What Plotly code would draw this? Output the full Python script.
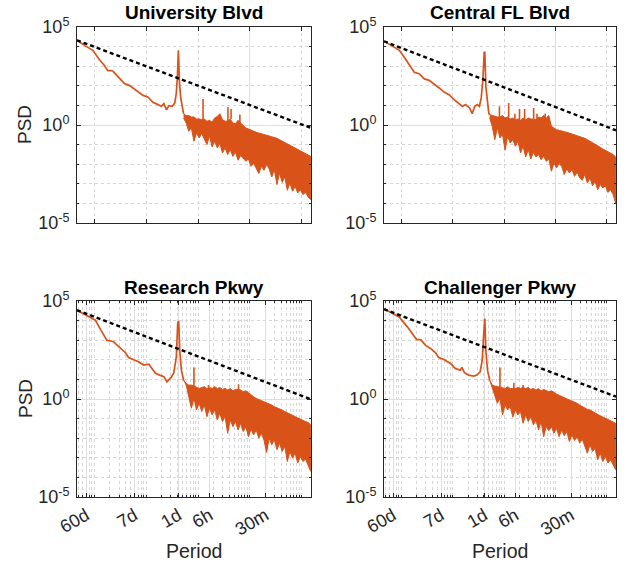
import numpy as np
import plotly.graph_objects as go

# ---------------- data (log10 frequency in cycles/day, log10 PSD) ----------------
noise_logf = [0.10, 0.15, 0.20, 0.25, 0.30, 0.35, 0.40, 0.45, 0.50, 0.55,
              0.60, 0.65, 0.70, 0.75, 0.80, 0.85, 0.90, 0.95, 1.00, 1.05,
              1.10, 1.15, 1.20, 1.25, 1.30, 1.35, 1.40, 1.45, 1.50, 1.55,
              1.60, 1.65, 1.70, 1.75, 1.80, 1.85, 1.90, 1.95, 2.00, 2.05,
              2.10, 2.15, 2.20, 2.25, 2.30, 2.35, 2.40, 2.45, 2.50, 2.55]

ref_logf = [-1.954, 2.556]

# University Blvd
ub_smooth_logf = [-1.954, -1.90, -1.80, -1.65, -1.52, -1.43, -1.36, -1.30, -1.26, -1.17,
                  -1.10, -1.04, -0.94, -0.86, -0.78, -0.68, -0.59, -0.49, -0.39, -0.33,
                  -0.28, -0.23, -0.18, -0.12, -0.07, -0.04, -0.02, -0.008, 0.0, 0.008,
                  0.02, 0.045, 0.077, 0.10]
ub_smooth_logpsd = [4.34, 4.22, 4.05, 3.81, 3.33, 3.05, 2.77, 2.78, 2.74, 2.48,
                    2.30, 2.11, 2.01, 1.85, 1.72, 1.51, 1.43, 1.16, 1.04, 0.95,
                    1.09, 0.78, 0.99, 0.95, 1.12, 1.63, 2.40, 3.30, 3.81, 3.20,
                    2.20, 1.38, 0.78, 0.58]
ub_upper_logpsd = [0.58, 0.48, 0.48, 0.41, 0.41, 0.31, 0.31, 0.27, 0.31, 0.19,
                   0.24, 0.14, 0.36, 0.44, 0.58, 0.27, 0.19, 0.20, 0.30, 0.10,
                   0.07, 0.24, 0.10, -0.03, -0.15, -0.20, -0.27, -0.32, -0.37, -0.41,
                   -0.44, -0.49, -0.53, -0.56, -0.60, -0.63, -0.68, -0.75, -0.82, -0.88,
                   -0.95, -1.02, -1.12, -1.19, -1.26, -1.31, -1.38, -1.45, -1.51, -1.60]
ub_lower_logpsd = [0.36, 0.10, -0.32, -0.15, -0.83, -0.41, -0.66, -0.44, -0.75, -1.00,
                   -0.58, -1.12, -0.83, -1.17, -0.95, -1.43, -1.17, -1.51, -1.26, -1.60,
                   -1.39, -1.80, -1.56, -1.68, -1.85, -1.73, -2.11, -1.94, -2.19, -2.48,
                   -2.11, -2.31, -2.02, -2.24, -2.65, -2.28, -3.04, -2.45, -2.93, -2.65,
                   -3.33, -2.96, -3.38, -3.13, -3.47, -3.30, -3.55, -3.44, -3.67, -3.81]
ub_spike_logf = [0.475, 0.79, 0.955, 1.015, 1.185]
ub_spike_logpsd = [1.33, 0.58, 0.92, 0.82, 0.53]
ub_ref_logpsd = [4.32, -0.15]

# Central FL Blvd
cf_smooth_logf = [-1.954, -1.655, -1.527, -1.366, -1.27, -1.17, -1.076, -0.98, -0.88, -0.786,
                  -0.69, -0.59, -0.50, -0.43, -0.37, -0.29, -0.24, -0.19, -0.14, -0.10,
                  -0.064, -0.032, -0.006, 0.006, 0.026, 0.058, 0.084, 0.10]
cf_smooth_logpsd = [4.28, 3.81, 3.33, 2.69, 2.62, 2.35, 2.28, 2.11, 1.89, 1.68,
                    1.55, 1.29, 1.09, 0.95, 1.04, 0.87, 0.58, 0.95, 1.04, 0.95,
                    1.38, 2.31, 3.71, 3.71, 1.97, 0.95, 0.58, 0.53]
cf_upper_logpsd = [0.53, 0.48, 0.44, 0.41, 0.41, 0.48, 0.36, 0.41, 0.31, 0.36,
                   0.27, 0.31, 0.24, 0.36, 0.27, 0.36, 0.31, 0.30, 0.27, 0.41,
                   0.36, 0.48, 0.36, 0.48, -0.07, -0.15, -0.24, -0.27, -0.32, -0.34,
                   -0.37, -0.41, -0.44, -0.49, -0.53, -0.58, -0.63, -0.68, -0.75, -0.82,
                   -0.92, -0.99, -1.05, -1.14, -1.22, -1.29, -1.36, -1.46, -1.51, -1.63]
cf_lower_logpsd = [0.36, -0.07, -0.75, -0.15, -0.66, -0.49, -1.29, -0.58, -0.92, -0.75,
                   -1.09, -0.83, -1.43, -1.09, -1.63, -1.26, -1.73, -1.39, -1.63, -1.51,
                   -1.77, -1.60, -1.85, -1.73, -2.36, -1.94, -2.19, -1.97, -2.11, -2.53,
                   -2.24, -2.45, -2.28, -2.62, -2.41, -2.70, -2.82, -2.53, -2.96, -2.70,
                   -3.10, -2.87, -3.30, -3.04, -3.21, -3.10, -3.44, -3.30, -3.55, -4.01]
cf_spike_logf = [0.29, 0.47, 0.59, 0.68, 0.78, 0.955, 1.02, 1.18]
cf_spike_logpsd = [0.95, 1.12, 0.58, 0.82, 0.82, 0.87, 0.58, 0.58]
cf_ref_logpsd = [4.27, -0.27]

# Research Pkwy
rp_smooth_logf = [-1.954, -1.765, -1.60, -1.51, -1.38, -1.25, -1.12, -1.02, -0.96, -0.86,
                  -0.77, -0.67, -0.57, -0.51, -0.44, -0.36, -0.28, -0.22, -0.14, -0.09,
                  -0.04, -0.013, 0.006, 0.026, 0.058, 0.10]
rp_smooth_logpsd = [4.53, 4.27, 4.02, 3.59, 3.00, 2.92, 2.58, 2.36, 2.12, 2.02,
                    1.90, 1.73, 1.78, 1.56, 1.31, 1.22, 1.14, 0.88, 1.10, 1.31,
                    2.15, 3.85, 3.98, 2.49, 1.47, 0.97]
rp_upper_logpsd = [0.97, 0.80, 0.71, 0.71, 0.66, 0.59, 0.54, 0.59, 0.63, 0.53,
                   0.59, 0.54, 0.63, 0.54, 0.59, 0.49, 0.54, 0.46, 0.53, 0.42,
                   0.49, 0.50, 0.46, 0.37, 0.42, 0.32, 0.20, 0.12, 0.03, -0.02,
                   -0.08, -0.14, -0.19, -0.25, -0.31, -0.39, -0.44, -0.53, -0.56, -0.64,
                   -0.69, -0.76, -0.83, -0.90, -0.97, -1.00, -1.07, -1.15, -1.20, -1.32]
rp_lower_logpsd = [0.97, 0.71, 0.12, -0.47, 0.03, -0.56, -0.22, -0.64, -0.31, -0.90,
                   -0.47, -0.81, -0.56, -1.07, -0.73, -1.15, -0.90, -1.75, -1.07, -1.41,
                   -1.15, -1.58, -1.24, -1.66, -1.41, -1.92, -1.54, -1.83, -1.58, -2.00,
                   -1.75, -2.10, -2.73, -2.00, -2.34, -2.08, -2.59, -2.25, -2.68, -2.42,
                   -3.19, -2.68, -3.02, -2.76, -3.27, -2.93, -3.19, -3.07, -3.36, -3.69]
rp_spike_logf = [0.30, 0.58, 1.16]
rp_spike_logpsd = [1.61, 0.71, 0.75]
rp_ref_logpsd = [4.53, -0.02]

# Challenger Pkwy
cp_smooth_logf = [-1.954, -1.66, -1.50, -1.37, -1.32, -1.24, -1.15, -1.05, -0.95, -0.89,
                  -0.79, -0.66, -0.57, -0.47, -0.44, -0.39, -0.31, -0.21, -0.15, -0.084,
                  -0.045, -0.019, -0.006, 0.006, 0.026, 0.058, 0.10]
cp_smooth_logpsd = [4.60, 4.19, 3.68, 3.17, 3.03, 3.03, 2.75, 2.58, 2.36, 2.12,
                    2.02, 1.81, 1.56, 1.47, 1.61, 1.34, 1.22, 1.17, 1.22, 1.39,
                    1.98, 3.17, 4.10, 4.10, 2.49, 1.47, 0.97]
cp_upper_logpsd = [0.97, 0.71, 0.66, 0.63, 0.59, 0.59, 0.54, 0.63, 0.53, 0.54,
                   0.53, 0.59, 0.54, 0.60, 0.53, 0.59, 0.49, 0.54, 0.46, 0.53,
                   0.42, 0.49, 0.42, 0.37, 0.42, 0.32, 0.25, 0.19, 0.12, 0.07,
                   0.02, -0.05, -0.10, -0.15, -0.22, -0.31, -0.39, -0.46, -0.53, -0.56,
                   -0.64, -0.73, -0.78, -0.86, -0.92, -0.98, -1.03, -1.10, -1.17, -1.24]
cp_lower_logpsd = [0.97, 0.54, 0.20, -0.22, 0.03, -0.81, -0.31, -0.56, -0.39, -0.93,
                   -0.56, -0.81, -0.64, -1.24, -0.81, -1.15, -0.90, -1.32, -1.07, -1.58,
                   -1.15, -1.92, -1.41, -1.61, -1.41, -1.75, -1.49, -1.92, -1.58, -1.88,
                   -1.66, -2.17, -1.83, -2.12, -1.92, -2.25, -2.05, -2.42, -2.76, -2.34,
                   -2.68, -2.51, -3.10, -2.76, -3.19, -2.93, -3.27, -3.10, -3.36, -3.61]
cp_spike_logf = [0.30, 0.57, 0.75]
cp_spike_logpsd = [1.61, 0.83, 0.71]
cp_ref_logpsd = [4.58, 0.12]

titles = ["University Blvd", "Central FL Blvd", "Research Pkwy", "Challenger Pkwy"]
period_tick_labels = ["60d", "7d", "1d", "6h", "30m"]
period_tick_days = [60, 7, 1, 0.25, 1 / 48]
psd_tick_vals = [1e-5, 1, 1e5]
psd_tick_text = ["10<sup>-5</sup>", "10<sup>0</sup>", "10<sup>5</sup>"]

# ---------------- figure ----------------
W, H = 629, 567
ORANGE = "#D95319"
DARK = "#262626"
FONT = "Liberation Sans, Arial, sans-serif"

def fx(px):
    return px / W

def fy(py):
    return 1 - py / H

col_px = [(77, 311), (384, 616)]
row_px = [(27, 223), (301, 497)]

panels = [
    (ub_smooth_logf, ub_smooth_logpsd, ub_upper_logpsd, ub_lower_logpsd, ub_spike_logf, ub_spike_logpsd, ub_ref_logpsd),
    (cf_smooth_logf, cf_smooth_logpsd, cf_upper_logpsd, cf_lower_logpsd, cf_spike_logf, cf_spike_logpsd, cf_ref_logpsd),
    (rp_smooth_logf, rp_smooth_logpsd, rp_upper_logpsd, rp_lower_logpsd, rp_spike_logf, rp_spike_logpsd, rp_ref_logpsd),
    (cp_smooth_logf, cp_smooth_logpsd, cp_upper_logpsd, cp_lower_logpsd, cp_spike_logf, cp_spike_logpsd, cp_ref_logpsd),
]

p10 = lambda a: np.power(10.0, np.asarray(a, dtype=float))

fig = go.Figure()
xmin_f, xmax_f = 10 ** ref_logf[0], 10 ** ref_logf[1]

# frequency (cycles/day) of each labelled period
period_tick_freq = [1.0 / d for d in period_tick_days]
# minor tick positions: decades & sub-decades in cycles/hour, expressed in cycles/day
minor_dense = [24 * m * 10.0 ** k for k in range(-4, 2) for m in range(1, 10)]
minor_dense = [v for v in minor_dense if xmin_f <= v <= xmax_f]
decade_cph = [24 * 10.0 ** k for k in range(-3, 2)]

MINOR_GRID = "#d6d6d6"
MAJOR_GRID = "#dedede"

layout_axes = {}
for i, (sf, sp, up, lo, spf, spp, refp) in enumerate(panels):
    r, c = divmod(i, 2)
    xa = "x" if i == 0 else f"x{i+1}"
    ya = "y" if i == 0 else f"y{i+1}"

    # smooth low-frequency part
    fig.add_trace(go.Scatter(x=p10(sf), y=p10(sp), mode="lines",
                             line=dict(color=ORANGE, width=1.7), xaxis=xa, yaxis=ya,
                             hoverinfo="skip"))
    # noisy high-frequency band
    px = list(p10(noise_logf)) + list(p10(noise_logf[::-1]))
    py = list(p10(up)) + list(p10(lo[::-1]))
    fig.add_trace(go.Scatter(x=px, y=py, mode="lines", fill="toself", fillcolor=ORANGE,
                             line=dict(color=ORANGE, width=1), xaxis=xa, yaxis=ya,
                             hoverinfo="skip"))
    # narrow peaks
    sx, sy = [], []
    for f, v in zip(spf, spp):
        j = int(np.argmin(np.abs(np.asarray(noise_logf) - f)))
        sx += [10 ** f, 10 ** f, None]
        sy += [10 ** up[j], 10 ** v, None]
    fig.add_trace(go.Scatter(x=sx, y=sy, mode="lines", line=dict(color=ORANGE, width=1.6),
                             xaxis=xa, yaxis=ya, hoverinfo="skip"))
    # 1/f reference
    fig.add_trace(go.Scatter(x=p10(ref_logf), y=p10(refp), mode="lines",
                             line=dict(color="black", width=2.4, dash="4px,3px"),
                             xaxis=xa, yaxis=ya, hoverinfo="skip"))

    x0, x1 = col_px[c]
    y0, y1 = row_px[r]
    xdom = [fx(x0), fx(x1)]
    ydom = [fy(y1), fy(y0)]

    common = dict(showline=True, linecolor=DARK, linewidth=1, mirror="allticks",
                  ticks="inside", tickcolor=DARK, ticklen=4, tickwidth=1,
                  showgrid=True, gridcolor=MAJOR_GRID, gridwidth=1, zeroline=False,
                  automargin=False,
                  tickfont=dict(family=FONT, size=18, color=DARK))
    if r == 1:
        xcfg = dict(type="log", range=ref_logf, domain=xdom, anchor=ya,
                    tickmode="array", tickvals=period_tick_freq, ticktext=period_tick_labels,
                    tickangle=-30, showticklabels=True,
                    minor=dict(tickmode="array", tickvals=minor_dense, ticks="inside",
                               ticklen=2, tickcolor=DARK, showgrid=True,
                               gridcolor=MINOR_GRID, griddash="dot", gridwidth=1),
                    **common)
    else:
        xcfg = dict(type="log", range=ref_logf, domain=xdom, anchor=ya,
                    tickmode="array", tickvals=[24], ticktext=[""], showticklabels=False,
                    minor=dict(tickmode="array", tickvals=[v for v in decade_cph if v != 24],
                               ticks="inside", ticklen=4, tickcolor=DARK, showgrid=True,
                               gridcolor=MINOR_GRID, griddash="dot", gridwidth=1),
                    **common)
    ycfg = dict(type="log", range=[-5, 5], domain=ydom, anchor=xa,
                tickmode="array", tickvals=psd_tick_vals, ticktext=psd_tick_text,
                ticklabelstandoff=3,
                minor=dict(tickmode="array", tickvals=[10.0 ** k for k in range(-4, 5) if k != 0],
                           ticks="inside", ticklen=2, tickcolor=DARK, showgrid=True,
                           gridcolor=MINOR_GRID, griddash="dot", gridwidth=1),
                **common)
    layout_axes["xaxis" if i == 0 else f"xaxis{i+1}"] = xcfg
    layout_axes["yaxis" if i == 0 else f"yaxis{i+1}"] = ycfg

annotations = []
title_pos = [(194, 12), (500, 12), (194, 287), (500, 287)]
for t, (cx, cy) in zip(titles, title_pos):
    annotations.append(dict(text=f"<b>{t}</b>", x=fx(cx), y=fy(cy), xref="paper", yref="paper",
                            showarrow=False, xanchor="center", yanchor="middle",
                            font=dict(family=FONT, size=19, color="black")))
for cy in (125, 399):
    annotations.append(dict(text="PSD", x=fx(25), y=fy(cy), xref="paper", yref="paper",
                            showarrow=False, textangle=-90, xanchor="center", yanchor="middle",
                            font=dict(family=FONT, size=19, color=DARK)))
for cx in (194, 500):
    annotations.append(dict(text="Period", x=fx(cx), y=fy(551), xref="paper", yref="paper",
                            showarrow=False, xanchor="center", yanchor="middle",
                            font=dict(family=FONT, size=19.5, color=DARK)))

fig.update_layout(width=W, height=H, margin=dict(l=0, r=0, t=0, b=0, autoexpand=False),
                  paper_bgcolor="white", plot_bgcolor="white", showlegend=False,
                  hovermode=False,
                  annotations=annotations, **layout_axes)

# place the figure at the window's top-left corner (no default body margin)
fig.write_html("out.html", config={"displayModeBar": False, "staticPlot": True},
               post_script="document.body.style.margin='0';document.body.style.overflow='hidden';")
